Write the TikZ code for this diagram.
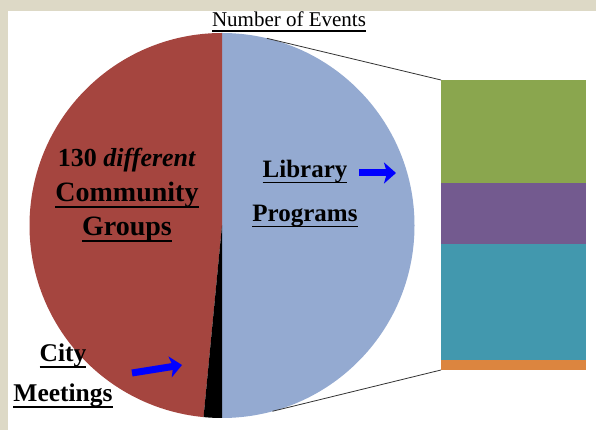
\documentclass[tikz,border=0pt]{standalone}
\usepackage{fontspec}
\setmainfont{Liberation Serif}
\usepackage{tikz}
\usetikzlibrary{positioning,arrows.meta}

\definecolor{paper}{HTML}{DDD9C6}
\definecolor{pieRed}{HTML}{A5453F}
\definecolor{pieBlue}{HTML}{94AAD1}
\definecolor{barGreen}{HTML}{8AA64E}
\definecolor{barPurple}{HTML}{735A8F}
\definecolor{barTeal}{HTML}{4298AE}
\definecolor{barOrange}{HTML}{DC853F}

% underline at a fixed depth below the baseline
\newsavebox\ulbox
\newcommand{\ulword}[1]{\sbox\ulbox{#1}\rlap{\rule[-0.22em]{\wd\ulbox}{0.07em}}\usebox\ulbox}

\begin{document}
\begin{tikzpicture}[x=1pt,y=1pt,
      seg/.style  ={rectangle,draw=none,inner sep=0pt,outer sep=0pt,minimum width=145pt},
      lbl/.style  ={align=center,anchor=base,inner sep=0pt,font=\bfseries},
      pointer/.style={draw=blue,line width=7pt,-{Stealth[length=12pt,width=21pt,inset=3pt]}},
      link/.style ={draw=black!80,line width=0.8pt}]
      % Background and margins
      \fill[paper] (0,0) rectangle (596,430);
      \fill[white] (8,0) rectangle (596,419);
      \useasboundingbox (0,0) rectangle (596,430);

      % Pie
      \def\rad{192.5}
      \coordinate (ctr) at (222,204.5);
      \foreach \a/\b/\c in {90/-90/pieBlue, 90/264.5/pieRed, 264.5/270/black}{
        \fill[\c] (ctr) -- ++(\a:\rad) arc[start angle=\a,end angle=\b,radius=\rad] -- cycle;}
      \path (ctr) ++(76.5:\rad) coordinate (pieTop);
      \path (ctr) ++(-74.8:\rad) coordinate (pieBot);

      % Bar of pie
      \node[seg,fill=barGreen,minimum height=103pt,anchor=north west] (segA) at (441,350) {};
      \node[seg,fill=barPurple,minimum height=61pt,below=0pt of segA] (segB) {};
      \node[seg,fill=barTeal,minimum height=116pt,below=0pt of segB] (segC) {};
      \node[seg,fill=barOrange,minimum height=10pt,below=0pt of segC] (segD) {};
      \draw[link] (pieTop) -- (segA.north west);
      \draw[link] (pieBot) -- (segD.south west);

      % Title
      \node[lbl,font=\fontsize{21}{24}\selectfont] (title) at (289,403) {\ulword{Number of Events}};

      % Labels (base = baseline of the last line)
      \node[lbl,font=\bfseries\fontsize{25}{44}\selectfont] (libTxt) at (305,208)
        {\ulword{Library}\\ \ulword{Programs}};
      \node[lbl,font=\bfseries\fontsize{28}{34.5}\selectfont] (grpTxt) at (127,194)
        {{\fontsize{26}{34.5}\selectfont 130 \textit{different}}\\ \ulword{Community}\\ \ulword{Groups}};
      \node[lbl,font=\bfseries\fontsize{25.5}{40}\selectfont] (cityTxt) at (63,28)
        {\ulword{City}\\ \ulword{Meetings}};

      % Pointers
      \coordinate (libA) at (359,257);
      \coordinate (libB) at (396,257);
      \coordinate (cityA) at (132,57);
      \coordinate (cityB) at (182,65);
      \draw[pointer] (libA) -- (libB);
      \draw[pointer] (cityA) -- (cityB);
  \end{tikzpicture}
\end{document}
